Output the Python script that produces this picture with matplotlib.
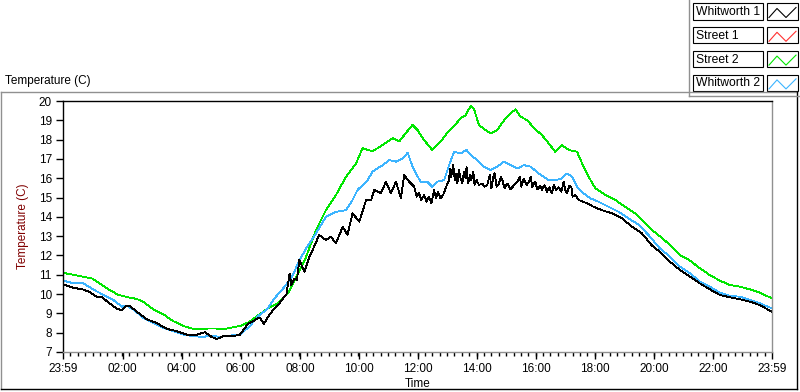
import matplotlib
matplotlib.use('Agg')
import matplotlib.pyplot as plt
from matplotlib.lines import Line2D
from matplotlib.patches import Rectangle

# hours since 23:59 of the previous day, temperature in C
whitworth1 = [
    (0, 10.5), (0.35, 10.33), (0.69, 10.23), (0.91, 10.1), (1.14, 9.85), (1.31, 9.85),
    (1.59, 9.5), (1.82, 9.25), (1.99, 9.16), (2.16, 9.4), (2.27, 9.36), (2.49, 9.1),
    (2.83, 8.7), (3.17, 8.5), (3.51, 8.2), (3.85, 8.08), (4.19, 7.9), (4.53, 7.9),
    (4.81, 8.03), (5.03, 7.78), (5.2, 7.67), (5.43, 7.82), (5.76, 7.82), (5.99, 7.9),
    (6.26, 8.45), (6.49, 8.65), (6.66, 8.79), (6.8, 8.45), (6.94, 8.83), (7.11, 9.17),
    (7.28, 9.43), (7.45, 9.78), (7.56, 9.95), (7.67, 11.07), (7.73, 10.47), (7.84, 10.81),
    (7.92, 10.73), (8.0, 11.76), (8.17, 11.16), (8.34, 11.93), (8.5, 12.45), (8.67, 13.06),
    (8.9, 12.8), (9.07, 12.97), (9.24, 12.63), (9.47, 13.49), (9.63, 13.06), (9.8, 14.18),
    (10.03, 13.75), (10.26, 14.87), (10.43, 14.87), (10.54, 15.39), (10.76, 15.22),
    (10.93, 15.82), (11.1, 15.22), (11.27, 15.82), (11.44, 14.96), (11.55, 16.16),
    (11.72, 15.82), (11.89, 15.56), (11.97, 15.04), (12.05, 15.22), (12.13, 14.87),
    (12.22, 15.13), (12.31, 14.79), (12.39, 15.04), (12.47, 14.70), (12.56, 15.39),
    (12.63, 14.96), (12.69, 15.30), (12.78, 14.96), (12.87, 15.13), (12.95, 15.48),
    (13.07, 15.91), (13.10, 16.51), (13.14, 16.08), (13.21, 16.68), (13.26, 15.91),
    (13.30, 16.25), (13.35, 15.73), (13.40, 16.43), (13.46, 15.99), (13.52, 15.73),
    (13.57, 16.34), (13.63, 15.99), (13.66, 16.60), (13.71, 15.73), (13.78, 16.17),
    (13.82, 15.91), (13.89, 16.34), (13.93, 15.65), (14.00, 15.91), (14.08, 15.65),
    (14.19, 15.73), (14.27, 15.56), (14.36, 15.65), (14.45, 16.17), (14.50, 15.48),
    (14.57, 16.08), (14.61, 16.25), (14.68, 15.56), (14.76, 15.73), (14.82, 16.08),
    (14.87, 15.91), (14.95, 15.48), (15.04, 15.73), (15.15, 15.42), (15.27, 15.65),
    (15.38, 15.82), (15.47, 16.08), (15.51, 15.56), (15.60, 15.99), (15.69, 15.65),
    (15.77, 15.82), (15.83, 16.08), (15.89, 15.53), (15.94, 15.73), (15.99, 15.82),
    (16.05, 15.42), (16.16, 15.60), (16.21, 15.39), (16.30, 15.65), (16.38, 15.30),
    (16.46, 15.53), (16.55, 15.22), (16.61, 15.65), (16.69, 15.39), (16.78, 15.53),
    (16.87, 15.30), (16.95, 15.82), (17.00, 15.39), (17.06, 15.22), (17.14, 15.60),
    (17.21, 15.53), (17.25, 15.04), (17.34, 15.13), (17.46, 14.87), (17.74, 14.7),
    (17.96, 14.52), (18.24, 14.35), (18.58, 14.18), (18.92, 13.92), (19.26, 13.49),
    (19.6, 13.14), (19.92, 12.54), (20.2, 12.19), (20.55, 11.67), (20.89, 11.24),
    (21.23, 10.9), (21.56, 10.55), (21.9, 10.24), (22.24, 9.95), (22.58, 9.83),
    (22.92, 9.73), (23.26, 9.6), (23.59, 9.43), (24.0, 9.08),
]

street1 = []  # no visible trace in the chart

street2 = [
    (0, 11.1), (0.69, 10.9), (1.0, 10.8), (1.48, 10.3), (1.86, 9.97), (2.15, 9.85),
    (2.49, 9.75), (2.72, 9.6), (3.06, 9.2), (3.4, 8.95), (3.73, 8.6), (4.07, 8.35),
    (4.41, 8.2), (4.7, 8.2), (5.0, 8.22), (5.5, 8.2), (6.03, 8.36), (6.32, 8.57),
    (6.6, 8.9), (6.94, 9.26), (7.28, 9.52), (7.62, 10.04), (7.9, 10.9), (8.23, 11.93),
    (8.56, 13.3), (8.9, 14.35), (9.24, 15.13), (9.58, 16.08), (9.92, 16.77),
    (10.14, 17.55), (10.48, 17.4), (10.82, 17.72), (11.16, 18.07), (11.38, 17.9),
    (11.6, 18.33), (11.83, 18.76), (12.0, 18.5), (12.22, 17.98), (12.5, 17.46),
    (12.78, 17.9), (13.0, 18.33), (13.18, 18.6), (13.46, 19.1), (13.63, 19.27),
    (13.8, 19.74), (13.91, 19.6), (14.08, 18.76), (14.3, 18.5), (14.48, 18.33),
    (14.7, 18.5), (14.93, 19.0), (15.15, 19.36), (15.32, 19.57), (15.49, 19.19),
    (15.72, 19.0), (15.94, 18.6), (16.21, 18.24), (16.44, 17.81), (16.66, 17.37),
    (16.89, 17.72), (17.12, 17.46), (17.4, 17.37), (17.57, 16.77), (17.79, 16.08),
    (18.02, 15.48), (18.36, 15.13), (18.7, 14.87), (19.03, 14.52), (19.37, 14.18),
    (19.71, 13.66), (19.94, 13.32), (20.2, 13.0), (20.55, 12.54), (20.89, 12.02),
    (21.23, 11.73), (21.56, 11.33), (21.9, 10.98), (22.24, 10.69), (22.58, 10.47),
    (22.92, 10.38), (23.26, 10.24), (23.59, 10.07), (24.0, 9.78),
]

whitworth2 = [
    (0, 10.7), (0.35, 10.56), (0.69, 10.56), (1.03, 10.23), (1.36, 9.97), (1.7, 9.7),
    (1.99, 9.35), (2.16, 9.4), (2.38, 9.2), (2.72, 8.77), (3.06, 8.5), (3.4, 8.25),
    (3.73, 8.08), (4.07, 7.9), (4.41, 7.82), (4.75, 7.78), (4.98, 7.85), (5.31, 7.78),
    (5.65, 7.85), (5.99, 7.9), (6.33, 8.35), (6.6, 8.85), (6.9, 9.2), (7.16, 9.78),
    (7.5, 10.38), (7.78, 10.98), (7.96, 11.62), (8.23, 12.37), (8.56, 13.14), (8.9, 14.0),
    (9.24, 14.26), (9.58, 14.35), (9.8, 14.87), (9.97, 15.39), (10.31, 15.9),
    (10.48, 16.34), (10.82, 16.68), (11.05, 16.94), (11.27, 16.86), (11.5, 17.03),
    (11.67, 17.32), (11.83, 16.6), (12.1, 15.82), (12.33, 15.82), (12.5, 15.56),
    (12.67, 15.82), (12.9, 15.9), (13.07, 16.68), (13.24, 17.37), (13.46, 17.29),
    (13.66, 17.46), (13.86, 17.12), (14.03, 16.94), (14.25, 16.6), (14.48, 16.42),
    (14.7, 16.6), (14.93, 16.86), (15.15, 16.68), (15.38, 16.51), (15.6, 16.68),
    (15.83, 16.6), (16.1, 16.25), (16.44, 15.9), (16.66, 15.9), (16.89, 15.99),
    (17.06, 16.25), (17.23, 16.08), (17.4, 15.56), (17.62, 15.22), (17.85, 14.96),
    (18.13, 14.78), (18.47, 14.52), (18.81, 14.26), (19.15, 13.92), (19.49, 13.58),
    (19.82, 13.06), (20.2, 12.37), (20.55, 11.93), (20.89, 11.41), (21.23, 11.07),
    (21.56, 10.64), (21.9, 10.38), (22.24, 10.07), (22.58, 9.91), (22.92, 9.86),
    (23.26, 9.69), (23.59, 9.52), (24.0, 9.26),
]

series_names = ['Whitworth 1', 'Street 1', 'Street 2', 'Whitworth 2']
series_colors = ['#000000', '#ff3030', '#00e600', '#3cb4ff']

tick_labels = ['23:59', '02:00', '04:00', '06:00', '08:00', '10:00', '12:00',
               '14:00', '16:00', '18:00', '20:00', '22:00', '23:59']
tick_hours = [0] + [2 * i + 1 / 60 for i in range(1, 12)] + [24]

W, H = 800, 392


def fx(x):
    return x / W


def fy(y):
    return 1 - y / H


plt.rcParams['font.family'] = ['Liberation Sans', 'DejaVu Sans']
fig = plt.figure(figsize=(8, 3.92), dpi=100)

ax = fig.add_axes([fx(63), fy(352), fx(772) - fx(63), fy(101) - fy(352)])

# draw order: green, blue, black on top
for data, color in [(street2, series_colors[2]), (whitworth2, series_colors[3]),
                    (street1, series_colors[1]), (whitworth1, series_colors[0])]:
    if not data:
        continue
    t, v = zip(*data)
    ax.plot(t, v, color=color, lw=0.6, antialiased=False)

ax.set_xlim(0, 24)
ax.set_ylim(7, 20)
ax.set_yticks(range(7, 21))
ax.set_xticks(tick_hours)
ax.set_xticklabels(tick_labels)
ax.set_xticks([i * 0.25 for i in range(97)], minor=True)
ax.tick_params(axis='both', which='major', length=5, width=1, labelsize=8.5, pad=3)
ax.tick_params(axis='x', which='minor', length=3, width=1)
ax.tick_params(axis='y', which='minor', length=0)

ax.spines['left'].set_color('black')
ax.spines['top'].set_color('black')
ax.spines['bottom'].set_color('#909090')
ax.spines['right'].set_color('#909090')
for s in ax.spines.values():
    s.set_linewidth(1)

ax.set_ylabel('Temperature (C)', fontsize=8.5, color='#800000', labelpad=7)
ax.set_xlabel('Time', fontsize=8.5, labelpad=2)

# chart frame
fig.add_artist(Line2D([fx(1), fx(797)], [fy(92), fy(92)], color='#909090', lw=1))
fig.add_artist(Line2D([fx(1), fx(1)], [fy(92), fy(389)], color='#909090', lw=1))
fig.add_artist(Line2D([fx(1), fx(797)], [fy(389), fy(389)], color='black', lw=1))
fig.add_artist(Line2D([fx(797), fx(797)], [fy(92), fy(389)], color='black', lw=1))
fig.text(fx(5), fy(81), 'Temperature (C)', fontsize=8.5, va='center', ha='left')

# legend box
fig.add_artist(Rectangle((fx(689), fy(96)), fx(800) - fx(689), fy(0) - fy(96),
                         facecolor='white', edgecolor='none'))
fig.add_artist(Line2D([fx(689), fx(689)], [fy(0), fy(96)], color='#909090', lw=1))
fig.add_artist(Line2D([fx(689), fx(800)], [fy(96), fy(96)], color='#909090', lw=1))
for i, (name, color) in enumerate(zip(series_names, series_colors)):
    top = 3.5 + i * 23.8
    fig.add_artist(Rectangle((fx(693), fy(top + 16)), fx(763) - fx(693), fy(top) - fy(top + 16),
                             facecolor='white', edgecolor='black', lw=0.8))
    fig.text(fx(695.5), fy(top + 8.5), name, fontsize=8.7, va='center', ha='left')
    fig.add_artist(Rectangle((fx(767), fy(top + 16)), fx(798) - fx(767), fy(top) - fy(top + 16),
                             facecolor='white', edgecolor='black', lw=0.8))
    fig.add_artist(Line2D([fx(769), fx(777), fx(786), fx(796)],
                          [fy(top + 14), fy(top + 5), fy(top + 14), fy(top + 4)],
                          color=color, lw=0.8))

fig.savefig('out.png', dpi=100)
